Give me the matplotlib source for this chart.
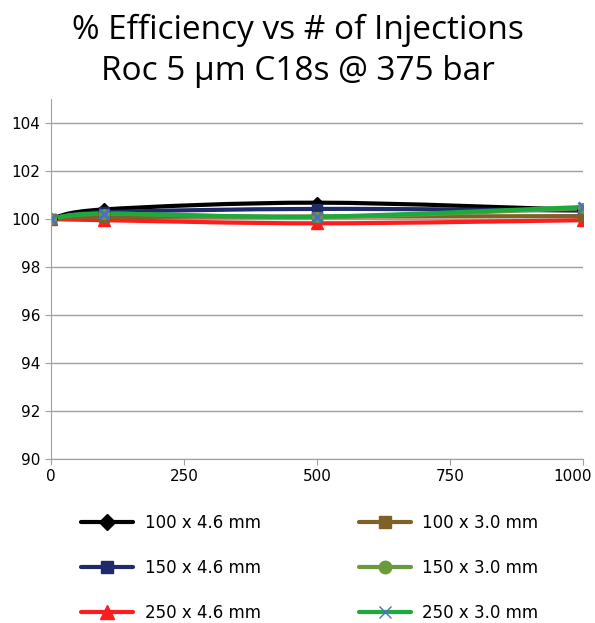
import numpy as np
import matplotlib
matplotlib.use('Agg')
import matplotlib.pyplot as plt
import matplotlib.transforms as mtransforms
from matplotlib.path import Path
from matplotlib.patches import PathPatch
from matplotlib.lines import Line2D

# nombre d'injections
injections = [0, 100, 500, 1000]

eff_100_46 = [100.0, 100.40, 100.68, 100.38]
eff_150_46 = [100.0, 100.28, 100.42, 100.35]
eff_250_46 = [100.0, 99.95, 99.82, 99.95]
eff_100_30 = [100.0, 100.08, 100.10, 100.12]
eff_150_30 = [100.0, 100.22, 100.08, 100.45]
eff_250_30 = [100.0, 100.22, 100.10, 100.50]

labels = ['100 x 4.6 mm', '150 x 4.6 mm', '250 x 4.6 mm',
          '100 x 3.0 mm', '150 x 3.0 mm', '250 x 3.0 mm']

yticks = [90, 92, 94, 96, 98, 100, 102, 104]
xticks = [0, 250, 500, 750, 1000]


def courbe_lisse(x, y):
	# bezier type Excel (Catmull-Rom)
	pts = np.column_stack([x, y]).astype(float)
	n = len(pts)
	verts = [pts[0]]
	codes = [Path.MOVETO]
	for i in range(n - 1):
		p0 = pts[max(i - 1, 0)]
		p1 = pts[i]
		p2 = pts[i + 1]
		p3 = pts[min(i + 2, n - 1)]
		verts += [p1 + (p2 - p0) / 6.0, p2 - (p3 - p1) / 6.0, p2]
		codes += [Path.CURVE4] * 3
	return Path(verts, codes)


fig = plt.figure(figsize=(5.95, 6.23), dpi=100)
ax = fig.add_axes([51/595, 1 - 459/623, 532/595, 360/623])

series = [
	(eff_100_46, 'black', 'D', 'black', 6),
	(eff_150_46, '#1f2a6b', 's', '#1f2a6b', 7),
	(eff_250_46, '#ff1c1c', '^', '#ff1c1c', 8),
	(eff_100_30, '#7f6128', 's', '#7f6128', 7),
	(eff_150_30, '#6a9a3c', 'o', '#6a9a3c', 7),
	(eff_250_30, '#1caa3c', 'x', '#4a6fc8', 7),
]

handles = []
for (y, col, mk, mcol, ms), lab in zip(series, labels):
	patch = PathPatch(courbe_lisse(injections, y), fill=False, edgecolor=col,
	                  linewidth=3, capstyle='round', joinstyle='round')
	ax.add_patch(patch)
	ax.plot(injections, y, linestyle='none', marker=mk, color=mcol,
	        markersize=ms, markeredgewidth=2 if mk == 'x' else 1)
	handles.append(Line2D([], [], color=col, linewidth=3, marker=mk,
	                      markersize=ms + 2, markerfacecolor=mcol,
	                      markeredgecolor=mcol, label=lab,
	                      solid_capstyle='round'))

ax.set_xlim(0, 1000)
ax.set_ylim(90, 105)
ax.set_yticks(yticks)
ax.set_xticks(xticks)
ax.grid(axis='y', color='#a0a0a0', linewidth=1)
ax.set_axisbelow(True)
for s in ['top', 'right']:
	ax.spines[s].set_visible(False)
ax.spines['left'].set_color('#a0a0a0')
ax.spines['bottom'].set_color('#a0a0a0')
ax.tick_params(axis='both', colors='#a0a0a0', labelcolor='black',
               labelsize=11, length=4)

# dernier label decale vers la gauche (comme Excel)
dernier = ax.get_xticklabels()[-1]
dernier.set_transform(dernier.get_transform() +
                      mtransforms.ScaledTranslation(-10/100, 0, fig.dpi_scale_trans))

fig.text(0.5, 1 - 30/623, '% Efficiency vs # of Injections', ha='center',
         va='center', fontsize=24, family='Open Sans')
fig.text(0.5, 1 - 72/623, 'Roc 5 µm C18s @ 375 bar', ha='center',
         va='center', fontsize=24, family='Open Sans')

fig.legend(handles=handles, ncol=2, loc='center', frameon=False,
           bbox_to_anchor=(310/595, 1 - 568/623), handlelength=3.1,
           handletextpad=0.7, columnspacing=5.9, labelspacing=1.63,
           prop={'size': 12})

fig.savefig('out.png', dpi=100)
